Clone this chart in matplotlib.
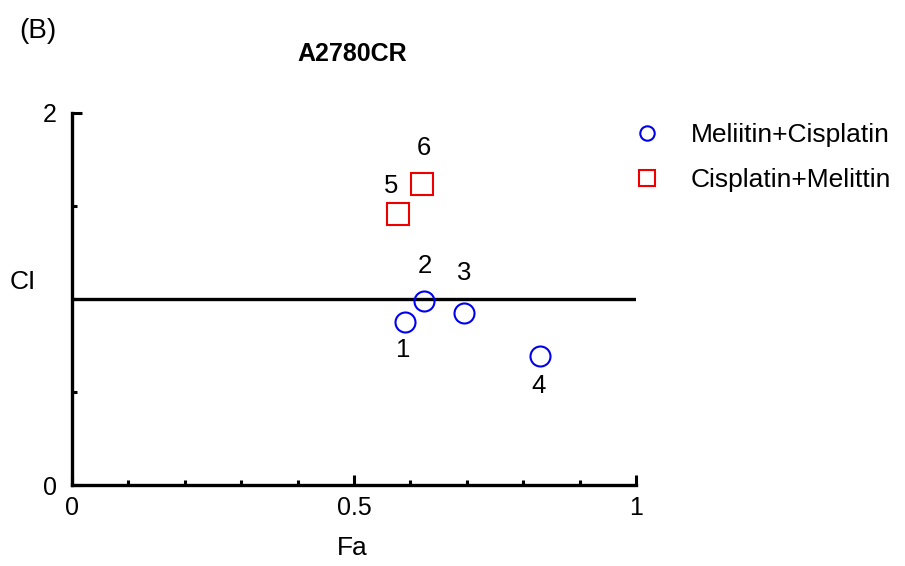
import matplotlib.pyplot as plt
from matplotlib.ticker import MultipleLocator

plt.rcParams['font.family'] = ['Liberation Sans', 'DejaVu Sans']

# --- data
fa_mc = [0.590, 0.624, 0.695, 0.830]
ci_mc = [0.876, 0.989, 0.925, 0.694]
lab_mc = ['1', '2', '3', '4']
off_mc = [(-2, -28), (1, 35), (0, 40), (-2, -30)]

fa_cm = [0.578, 0.621]
ci_cm = [1.457, 1.618]
lab_cm = ['5', '6']
off_cm = [(-7, 28), (2, 36)]

fig = plt.figure(figsize=(9.05, 5.66), dpi=100)
ax = fig.add_axes([0.0796, 0.1431, 0.6232, 0.6573])

ax.set_xlim(0, 1)
ax.set_ylim(0, 2)
ax.axhline(1, color='k', lw=2.4, zorder=1)

ax.plot(fa_mc, ci_mc, 'o', ms=14.4, mfc='none', mec='#0000ee', mew=1.5,
        ls='none', label='Meliitin+Cisplatin', clip_on=False)
ax.plot(fa_cm, ci_cm, 's', ms=15.8, mfc='none', mec='#ee0000', mew=1.5,
        ls='none', label='Cisplatin+Melittin', clip_on=False)

for x, y, t, o in zip(fa_mc + fa_cm, ci_mc + ci_cm, lab_mc + lab_cm, off_mc + off_cm):
    ax.annotate(t, (x, y), xytext=o, textcoords='offset pixels',
                ha='center', va='center', fontsize=18.5)

for s in ['top', 'right']:
    ax.spines[s].set_visible(False)
for s in ['left', 'bottom']:
    ax.spines[s].set_linewidth(2.4)

ax.set_xticks([0, 0.5, 1])
ax.set_xticklabels(['0', '0.5', '1'])
ax.xaxis.set_minor_locator(MultipleLocator(0.1))
ax.set_yticks([0, 2])
ax.set_yticklabels(['0', '2'])
ax.yaxis.set_minor_locator(MultipleLocator(0.5))
ax.tick_params(which='major', direction='in', length=7, width=2.2, labelsize=18)
ax.tick_params(which='minor', direction='in', length=3.6, width=2.2)
ax.tick_params(axis='x', which='major', pad=8)
ax.tick_params(axis='y', which='major', pad=11)

ax.set_xlabel('Fa', fontsize=19)
ax.xaxis.set_label_coords(0.497, -0.169)
ax.xaxis.label.set_va('center')
ax.set_ylabel('CI', fontsize=19, rotation=0, ha='center', va='center')
ax.yaxis.set_label_coords(-0.087, 0.545)
ax.text(0.497, 1.158, 'A2780CR', transform=ax.transAxes, fontsize=18,
        fontweight='bold', ha='center', va='center')
fig.text(0.042, 0.945, '(B)', fontsize=20, ha='center', va='center')

leg = ax.legend(loc='upper left', bbox_to_anchor=(634 / 905, 1 - 123 / 566),
                bbox_transform=fig.transFigure, frameon=False,
                fontsize=19, markerscale=0.72, handlelength=1.0,
                handletextpad=1.15, labelspacing=0.81, borderpad=0,
                borderaxespad=0)

fig.savefig('out.png', dpi=100)
